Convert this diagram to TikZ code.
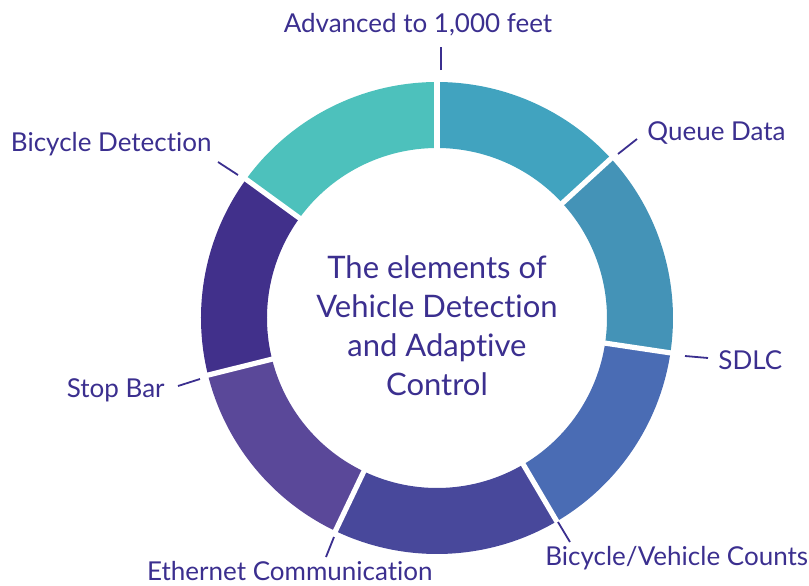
\documentclass[tikz,border=0pt]{standalone}
\usepackage{fontspec}
\setmainfont{Lato}[Ligatures=NoCommon]
\definecolor{labelink}{HTML}{3B2F8F}
\definecolor{segqueue}{HTML}{41A3BF}
\definecolor{segsdlc}{HTML}{4493B7}
\definecolor{segcounts}{HTML}{4A6CB4}
\definecolor{segether}{HTML}{48489B}
\definecolor{segstop}{HTML}{5A4899}
\definecolor{segbike}{HTML}{41308B}
\definecolor{segadv}{HTML}{4DC1BC}

\begin{document}
\begin{tikzpicture}[x=0.5pt, y=0.5pt, line join=round]
	
	\def\rout{236}
	\def\rin{170}
	
	\tikzset{
		gap/.style={white, line width=2.6pt},
		tick/.style={labelink, line width=0.9pt},
		lbl/.style={text=labelink, font=\fontsize{13}{15}\selectfont, inner sep=0pt},
		title/.style={text=labelink, align=center, inner sep=0pt,
			font=\fontsize{15.5}{19.5}\selectfont}
	}
	
	\newcommand{\ringseg}[3]{
		\fill[#3] (#1:\rout) arc[start angle=#1, end angle=#2, radius=\rout]
		-- (#2:\rin) arc[start angle=#2, end angle=#1, radius=\rin] -- cycle;
	}
	
	\useasboundingbox (-437,-267) rectangle (372,318);
	
	% ring
	\ringseg{90}{42.5}{segqueue}
	\ringseg{42.5}{-8.5}{segsdlc}
	\ringseg{-8.5}{-59.5}{segcounts}
	\ringseg{-59.5}{-115.5}{segether}
	\ringseg{-115.5}{-166}{segstop}
	\ringseg{-166}{-216}{segbike}
	\ringseg{-216}{-270}{segadv}
	
	\draw[gap] (90:165) -- (90:242);
	\draw[gap] (42.5:165) -- (42.5:242);
	\draw[gap] (-8.5:165) -- (-8.5:242);
	\draw[gap] (-59.5:165) -- (-59.5:242);
	\draw[gap] (-115.5:165) -- (-115.5:242);
	\draw[gap] (-166:165) -- (-166:242);
	\draw[gap] (-216:165) -- (-216:242);
	
	\node[title] (center) at (0,-8) {The elements of\\Vehicle Detection\\and Adaptive\\Control};
	
	% labels
	\node[lbl, anchor=base] (adv) at (-19,286) {Advanced to 1,000 feet};
	\node[lbl, anchor=base west] (queue) at (210,178) {Queue Data};
	\node[lbl, anchor=base west] (sdlc) at (281,-51) {SDLC};
	\node[lbl, anchor=base west] (counts) at (108,-247) {Bicycle/Vehicle Counts};
	\node[lbl, anchor=base east] (ether) at (-4,-262) {Ethernet Communication};
	\node[lbl, anchor=base east] (stop) at (-272,-79) {Stop Bar};
	\node[lbl, anchor=base east] (bike) at (-225,167) {Bicycle Detection};
	
	% ticks
	\coordinate (adv-a) at (4,248);    \coordinate (adv-b) at (4,271);
	\coordinate (queue-a) at (181,164); \coordinate (queue-b) at (200,179);
	\coordinate (sdlc-a) at (248,-38);  \coordinate (sdlc-b) at (271,-40);
	\coordinate (counts-a) at (121,-204); \coordinate (counts-b) at (133,-224);
	\coordinate (ether-a) at (-103,-219); \coordinate (ether-b) at (-111,-239);
	\coordinate (stop-a) at (-237,-61); \coordinate (stop-b) at (-259,-68);
	\coordinate (bike-a) at (-199,143); \coordinate (bike-b) at (-219,156);
	
	\draw[tick] (adv-a) -- (adv-b);
	\draw[tick] (queue-a) -- (queue-b);
	\draw[tick] (sdlc-a) -- (sdlc-b);
	\draw[tick] (counts-a) -- (counts-b);
	\draw[tick] (ether-a) -- (ether-b);
	\draw[tick] (stop-a) -- (stop-b);
	\draw[tick] (bike-a) -- (bike-b);
	
\end{tikzpicture}
\end{document}
